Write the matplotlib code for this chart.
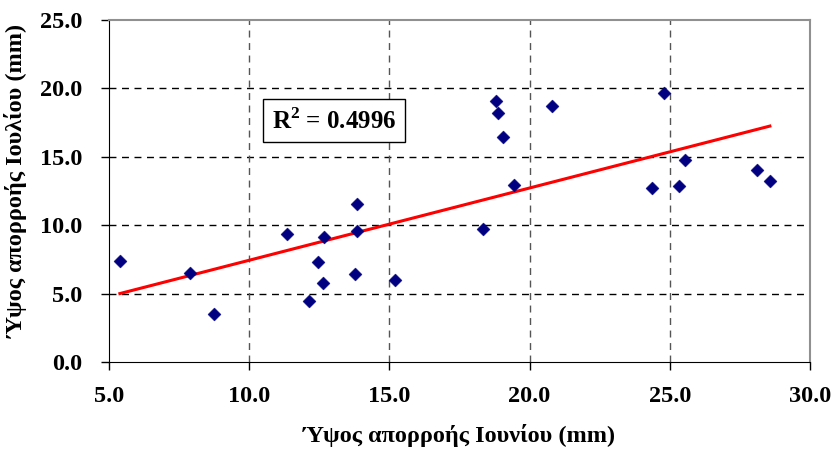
import numpy as np
import matplotlib
matplotlib.use("Agg")
import matplotlib.pyplot as plt

# Ύψος απορροής Ιουνίου (x) / Ιουλίου (y), mm
june = [5.39, 7.89, 8.74, 11.34, 12.13, 12.46, 12.64, 12.67, 13.78, 13.83, 13.83, 15.20,
        18.35, 18.81, 18.86, 19.04, 19.44, 20.81, 24.35, 24.79, 25.33, 25.54, 28.11, 28.57]
july = [7.37, 6.47, 3.50, 9.39, 4.47, 7.28, 5.74, 9.15, 6.45, 9.58, 11.55, 5.98,
        9.71, 19.05, 18.22, 16.45, 12.97, 18.71, 12.75, 19.64, 12.85, 14.74, 14.01, 13.23]
r2_text = "R$^2$ = 0.4996"
x_ticks = [5, 10, 15, 20, 25, 30]
y_ticks = [0, 5, 10, 15, 20, 25]

plt.rcParams['font.family'] = ['Liberation Serif', 'DejaVu Serif']
plt.rcParams['font.weight'] = 'bold'
plt.rcParams['mathtext.fontset'] = 'custom'
plt.rcParams['mathtext.rm'] = 'Liberation Serif:bold'

fig = plt.figure(figsize=(8.35, 4.5), dpi=100)
ax = fig.add_axes([0.1305, 0.1956, 0.8395, 0.76])

xs = np.array(june)
ys = np.array(july)
a, b = np.polyfit(xs, ys, 1)
xl = np.array([xs.min(), xs.max()])
ax.plot(xl, a * xl + b, color='#ff0000', lw=2.2, zorder=3)
ax.scatter(xs, ys, marker='D', s=44, color='#000080', edgecolors='#000080', linewidths=0.3, zorder=4)

ax.set_xlim(5, 30)
ax.set_ylim(0, 25)
ax.set_xticks(x_ticks)
ax.set_yticks(y_ticks)
ax.set_xticklabels(["%.1f" % v for v in x_ticks], fontsize=17.5, fontweight='bold')
ax.set_yticklabels(["%.1f" % v for v in y_ticks], fontsize=17.5, fontweight='bold')
ax.tick_params(direction='out', length=6, width=1, colors='black')
ax.tick_params(axis='x', pad=11)
ax.tick_params(axis='y', pad=13)

for v in y_ticks[1:-1]:
    ax.axhline(v, color='black', lw=1, ls=(0, (5, 4)), zorder=1)
for v in x_ticks[1:-1]:
    ax.axvline(v, color='#555555', lw=1, ls=(0, (5, 4)), zorder=1)

ax.spines['left'].set_color('black')
ax.spines['bottom'].set_color('black')
ax.spines['top'].set_color('#909090')
ax.spines['right'].set_color('#909090')
ax.spines['top'].set_linewidth(1.5)
ax.spines['right'].set_linewidth(1.5)

ax.set_xlabel("Ύψος απορροής Ιουνίου (mm)", fontsize=17.5, fontweight='bold')
ax.set_ylabel("Ύψος απορροής Ιουλίου (mm)", fontsize=17.5, fontweight='bold')
ax.xaxis.label.set_va('center')
ax.yaxis.label.set_va('center')
ax.xaxis.set_label_coords(0.5, -0.215)
ax.yaxis.set_label_coords(-0.132, 0.53)

ax.text(0.2325, 0.705, r2_text, transform=ax.transAxes, fontsize=18, fontweight='bold',
        ha='left', va='center',
        bbox=dict(boxstyle='square,pad=0.35', facecolor='white', edgecolor='black', lw=1), zorder=5)

fig.savefig("out.png", dpi=100)
